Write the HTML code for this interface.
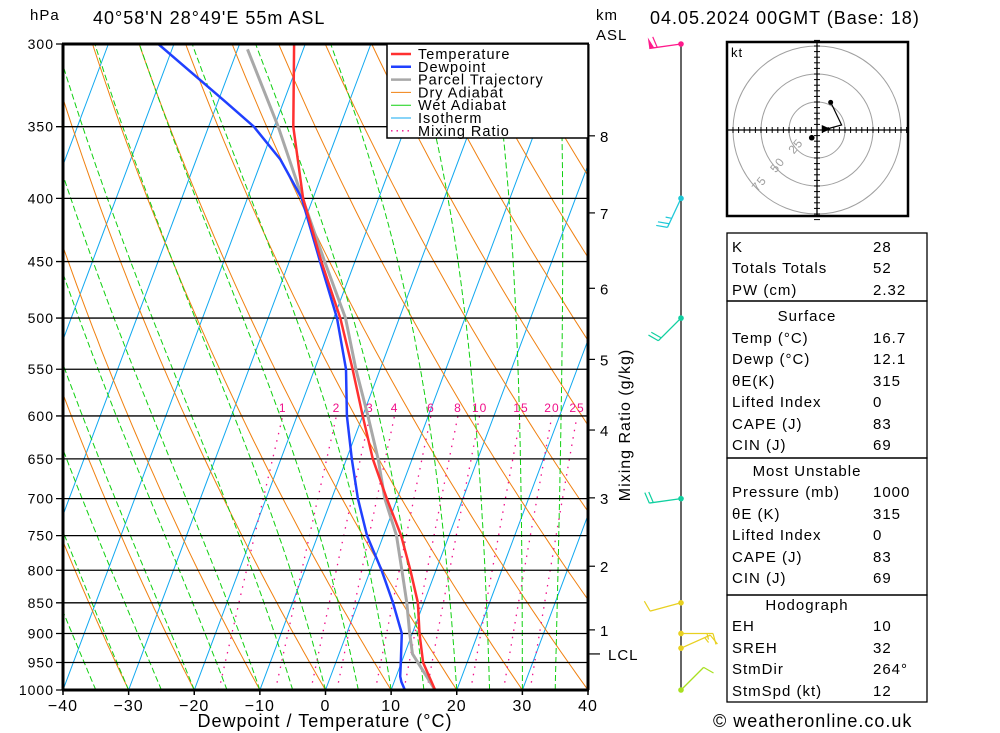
<!DOCTYPE html>
<html><head><meta charset="utf-8"><title>Skew-T</title>
<style>
html,body{margin:0;padding:0;background:#fff;}
svg{display:block;font-family:"Liberation Sans",sans-serif;}
text{fill:#000;letter-spacing:1px;}
</style></head>
<body>
<svg id="chart" width="1000" height="733" viewBox="0 0 1000 733" xmlns="http://www.w3.org/2000/svg">
<defs><clipPath id="plotclip"><rect x="63" y="44" width="525" height="646"/></clipPath></defs>
<g id="bg" clip-path="url(#plotclip)"></g>
<g id="isobars"></g>
<g id="mrlabels"></g>
<g id="profiles" clip-path="url(#plotclip)"></g>
<g id="frame">
<line x1="63" y1="44" x2="63" y2="690" stroke="#000" stroke-width="3"/>
<line x1="588" y1="44" x2="588" y2="690" stroke="#000" stroke-width="3"/>
<line x1="62" y1="44" x2="589" y2="44" stroke="#000" stroke-width="3"/>
<line x1="62" y1="690" x2="589" y2="690" stroke="#000" stroke-width="3"/>
</g>
<g id="xticks"></g>
<g id="yticks"></g>
<g id="kmaxis"></g>
<g id="legend">
<rect x="387" y="44" width="201" height="94" fill="#fff" stroke="#000" stroke-width="1.5"/>
</g>
<text x="30" y="20" font-size="15">hPa</text>
<text x="93" y="24" font-size="18">40°58'N 28°49'E 55m ASL</text>
<text x="596" y="20" font-size="15">km</text>
<text x="596" y="40" font-size="15">ASL</text>
<text x="650" y="24" font-size="18">04.05.2024 00GMT (Base: 18)</text>
<text x="325" y="727" font-size="18" text-anchor="middle">Dewpoint / Temperature (°C)</text>
<text x="0" y="0" font-size="16" text-anchor="middle" transform="translate(630,425) rotate(-90)">Mixing Ratio (g/kg)</text>
<text x="713" y="727" font-size="18">© weatheronline.co.uk</text>
<line x1="681" y1="44" x2="681" y2="690" stroke="#000" stroke-width="1.2"/>
<g id="barbs"></g>
<g id="hodo"></g>
<g id="table"></g>
</svg>
<script>
// ---- data ----
const tempP = [1000,950,900,850,800,750,700,650,600,550,500,450,400,350,300];
const tempC = [16.7,13.3,11.1,9.1,6.1,2.7,-1.6,-6.0,-10.0,-14.2,-19.0,-25.1,-31.5,-37.1,-41.7];
const dewP  = [1000,985,975,950,900,850,800,750,700,650,600,550,500,450,400,372,350,334,300];
const dewC  = [12.1,11.1,10.6,9.9,8.4,5.3,1.7,-2.5,-6.0,-9.2,-12.4,-15.2,-19.5,-25.3,-31.7,-37.2,-43.1,-48.9,-62.4];
const parcelP = [1000,935,900,850,800,750,700,650,600,550,500,450,400,350,303];
const parcelC = [16.7,11.2,9.6,7.4,4.8,2.0,-1.9,-5.2,-9.2,-13.7,-18.2,-24.6,-31.6,-39.4,-48.5];
const isobarLevels = [300,350,400,450,500,550,600,650,700,750,800,850,900,950,1000];
const xTickLabels = [-40,-30,-20,-10,0,10,20,30,40];
const mixRatios = [1,2,3,4,6,8,10,15,20,25];
const kmLabels = [8,7,6,5,4,3,2,1];
const kmP = [356,411,473,540,616,699,794,894];
const lclP = 935;
const windP = [300,400,500,700,850,900,925,1000];
const windDir = [262,205,225,262,255,90,66,45];
const windSpd = [60,25,20,20,10,15,15,10];
const windCol = ['#ff1a8c','#1ec8d8','#10d0a0','#10d0a0','#e8d020','#e8d020','#e8d020','#a8e020'];
const hodoU = [12.2,22.0,8.7];
const hodoV = [24.7,4.5,0.9];
const stormU = -4.7, stormV = -6.9;
const tableRows = [
 ['K','28'],['Totals Totals','52'],['PW (cm)','2.32'],
 ['#Surface',''],['Temp (°C)','16.7'],['Dewp (°C)','12.1'],['θE(K)','315'],['Lifted Index','0'],['CAPE (J)','83'],['CIN (J)','69'],
 ['#Most Unstable',''],['Pressure (mb)','1000'],['θE (K)','315'],['Lifted Index','0'],['CAPE (J)','83'],['CIN (J)','69'],
 ['#Hodograph',''],['EH','10'],['SREH','32'],['StmDir','264°'],['StmSpd (kt)','12']
];
// ---- axes ----
const NS='http://www.w3.org/2000/svg';
const Y0=690, Y1=44, LN=Math.log(1000/300);
function yP(p){return Y0-Math.log(1000/p)/LN*(Y0-Y1);}
function xT(t,p){return 325.5+6.5625*t+0.375*(Y0-yP(p));}
function mk(tag,attrs,parent){const e=document.createElementNS(NS,tag);for(const k in attrs)e.setAttribute(k,attrs[k]);parent.appendChild(e);return e;}
function poly(pts,parent,style){return mk('polyline',Object.assign({points:pts.map(q=>q[0].toFixed(1)+','+q[1].toFixed(1)).join(' '),fill:'none'},style),parent);}
const bg=document.getElementById('bg');
// isotherms
for(let t=-130;t<=40;t+=10){
  const l=poly([[xT(t,1000),yP(1000)],[xT(t,300),yP(300)]],bg,{stroke:'#10a8f0','stroke-width':1});
  
  
}
// dry adiabats
for(let t0=-30;t0<=160;t0+=10){
  const th=t0+273.15,pts=[];
  for(let p=1000;p>=300;p-=10)pts.push([xT(th*Math.pow(p/1000,0.2857)-273.15,p),yP(p)]);
  const l=poly(pts,bg,{stroke:'#f08010','stroke-width':1});
  
  
}
// wet adiabats
function es(t){return 6.112*Math.exp(17.67*t/(t+243.5));}
for(let t0=-35;t0<=35;t0+=5){
  let T=t0,pts=[[xT(T,1000),yP(1000)]];
  for(let p=1000;p>300;p-=5){
    const Tk=T+273.15,e=es(T),rs=0.622*e/(p-e);
    const dTdp=(287*Tk+2.5e6*rs)/(p*(1004+2.5e6*2.5e6*rs*0.622/(287*Tk*Tk)));
    T-=dTdp*5;pts.push([xT(T,p-5),yP(p-5)]);
  }
  const l=poly(pts,bg,{stroke:'#10d010','stroke-width':1,'stroke-dasharray':'6,3'});
  
  
}
// mixing ratio
function tdFromW(w,p){const e=w*p/(622+w),a=Math.log(e/6.112);return 243.5*a/(17.67-a)+0.8+0.08*w;}
const mrl=document.getElementById('mrlabels');
mixRatios.forEach(w=>{
  const pts=[];for(let p=1000;p>=600;p-=20)pts.push([xT(tdFromW(w,p),p),yP(p)]);
  const l=poly(pts,bg,{stroke:'#f0108a','stroke-width':1.3,'stroke-dasharray':'1.5,6'});
  
  
  const t=mk('text',{x:xT(tdFromW(w,600),600),y:412,'font-size':12,'text-anchor':'middle',style:'fill:#f0108a'},mrl);
  t.textContent=w;
  
  
});
// isobars + labels
const ib=document.getElementById('isobars'),yt=document.getElementById('yticks');
isobarLevels.forEach(p=>{
  const y=yP(p);
  const l=mk('line',{x1:56,y1:y,x2:588,y2:y,stroke:'#000','stroke-width':1.3},ib);
  
  
  const t=mk('text',{x:54,y:y+5,'font-size':14,'text-anchor':'end'},yt);
  t.textContent=p;
  
  
});
// x ticks
const xt=document.getElementById('xticks');
xTickLabels.forEach(t=>{
  const x=xT(t,1000);
  mk('line',{x1:x,y1:690,x2:x,y2:695,stroke:'#000','stroke-width':1.5},xt);
  const e=mk('text',{x:x,y:711,'font-size':16,'text-anchor':'middle'},xt);
  e.textContent=(t<0?'\u2212':'')+Math.abs(t);
  
  
});
// km axis
const km=document.getElementById('kmaxis');
kmLabels.forEach((k,i)=>{
  const y=yP(kmP[i]);
  mk('line',{x1:588,y1:y,x2:595,y2:y,stroke:'#000','stroke-width':1.2},km);
  const e=mk('text',{x:600,y:y+6,'font-size':15},km);
  e.textContent=k;
  
  
});
{const y=yP(lclP);mk('line',{x1:588,y1:y,x2:600,y2:y,stroke:'#000','stroke-width':1.2},km);
 const e=mk('text',{x:608,y:y+6,'font-size':15},km);e.textContent='LCL';
 
 }
// profiles
const pr=document.getElementById('profiles');
function prof(P,T,col,w,name){
  const l=poly(P.map((p,i)=>[xT(T[i],p),yP(p)]),pr,{stroke:col,'stroke-width':w,'stroke-linejoin':'round'});
  
  
}
prof(parcelP,parcelC,'#a8a8a8',3,'parcel-trajectory-line');
prof(dewP,dewC,'#2040ff',2.5,'dewpoint-line');
prof(tempP,tempC,'#ff3030',2.5,'temperature-line');
// legend
const lg=document.getElementById('legend');
const legItems=[['Temperature','#ff3030',2.5,''],['Dewpoint','#2040ff',2.5,''],['Parcel Trajectory','#a8a8a8',2.5,''],['Dry Adiabat','#f08010',1,''],['Wet Adiabat','#10d010',1,''],['Isotherm','#10a8f0',1,''],['Mixing Ratio','#f0108a',1.3,'1.5,4']];
legItems.forEach((it,i)=>{
  const y=54+i*12.8;
  const g=mk('g',{},lg);
  
  
  mk('line',{x1:391,y1:y,x2:411,y2:y,stroke:it[1],'stroke-width':it[2],'stroke-dasharray':it[3]||'none'},g);
  const t=mk('text',{x:418,y:y+5,'font-size':14.5},g);t.textContent=it[0];
});
// barbs
const bb=document.getElementById('barbs');
windP.forEach((p,i)=>{
  const y=yP(p),d=windDir[i]*Math.PI/180,L=32,c=windCol[i];
  const g=mk('g',{},bb);
  
  
  const ux=Math.sin(d),uy=-Math.cos(d),ex=681+ux*L,ey=y+uy*L;
  mk('line',{x1:681,y1:y,x2:ex,y2:ey,stroke:c,'stroke-width':1.3},g);
  mk('circle',{cx:681,cy:y,r:2.8,fill:c},g);
  const px=-uy,py=ux;let s=windSpd[i],k=0;
  while(s>=50){const bx=ex-ux*k*4,by=ey-uy*k*4;
    mk('polygon',{points:`${bx},${by} ${bx+px*11},${by+py*11} ${bx-ux*5},${by-uy*5}`,fill:c},g);s-=50;k+=2;}
  while(s>=10){const bx=ex-ux*k*4,by=ey-uy*k*4;
    mk('line',{x1:bx,y1:by,x2:bx+px*11+ux*3,y2:by+py*11+uy*3,stroke:c,'stroke-width':1.2},g);s-=10;k++;}
  if(s>=5){const bx=ex-ux*(k+0.5)*4,by=ey-uy*(k+0.5)*4;
    mk('line',{x1:bx,y1:by,x2:bx+px*6+ux*1.5,y2:by+py*6+uy*1.5,stroke:c,'stroke-width':1.2},g);}
});
// hodograph
const hg=document.getElementById('hodo'),HX=817,HY=130,HS=1.12;
mk('rect',{x:727,y:42,width:181,height:174,fill:'#fff',stroke:'#000','stroke-width':2.5},hg);
[25,50,75].forEach(r=>{mk('circle',{cx:HX,cy:HY,r:r*HS,fill:'none',stroke:'#a0a0a0','stroke-width':1},hg);});
mk('line',{x1:727,y1:HY,x2:908,y2:HY,stroke:'#000','stroke-width':1.3},hg);
mk('line',{x1:HX,y1:42,x2:HX,y2:216,stroke:'#000','stroke-width':1.3},hg);
for(let k=-16;k<=16;k++){if(!k)continue;const v=k*5.6;
  mk('line',{x1:HX+v,y1:HY-3,x2:HX+v,y2:HY+3,stroke:'#000','stroke-width':1},hg);
  mk('line',{x1:HX-3,y1:HY+v,x2:HX+3,y2:HY+v,stroke:'#000','stroke-width':1},hg);}
[[25,'25'],[50,'50'],[75,'75']].forEach(a=>{const r=a[0]*HS*0.93;
  const t=mk('text',{x:HX-r*0.7,y:HY+r*0.72,'font-size':12,'text-anchor':'middle',transform:`rotate(-50 ${HX-r*0.7} ${HY+r*0.72})`,style:'fill:#a0a0a0'},hg);t.textContent=a[1];});
{const t=mk('text',{x:731,y:57,'font-size':13},hg);t.textContent='kt';}
{const l=poly(hodoU.map((u,i)=>[HX+u*HS,HY-hodoV[i]*HS]),hg,{stroke:'#000','stroke-width':1.2});
 
 
 mk('circle',{cx:HX+hodoU[0]*HS,cy:HY-hodoV[0]*HS,r:2.5,fill:'#000'},hg);
 mk('polygon',{points:`${HX+hodoU[2]*HS+4},${HY-hodoV[2]*HS} ${HX+hodoU[2]*HS-5},${HY-hodoV[2]*HS-4} ${HX+hodoU[2]*HS-5},${HY-hodoV[2]*HS+4}`,fill:'#000'},hg);
 const sm=mk('circle',{cx:HX+stormU*HS,cy:HY-stormV*HS,r:2.8,fill:'#000'},hg);
 
 }
// table
const tb=document.getElementById('table');
const rowY=[247,268,290,316,338,359,381,402,424,445,471,492,514,535,557,578,605,626,648,669,691];
[[233,301],[301,458],[458,595],[595,702]].forEach(b=>{mk('rect',{x:727,y:b[0],width:200,height:b[1]-b[0],fill:'none',stroke:'#000','stroke-width':1.3},tb);});
tableRows.forEach((r,i)=>{
  const y=rowY[i]+5;
  if(r[0][0]==='#'){const t=mk('text',{x:807,y:y,'font-size':15,'text-anchor':'middle'},tb);t.textContent=r[0].slice(1);
    
    return;}
  const a=mk('text',{x:732,y:y,'font-size':15},tb);a.textContent=r[0];
  
  
  const b=mk('text',{x:873,y:y,'font-size':15},tb);b.textContent=r[1];
  
  
});
</script>
</body></html>
